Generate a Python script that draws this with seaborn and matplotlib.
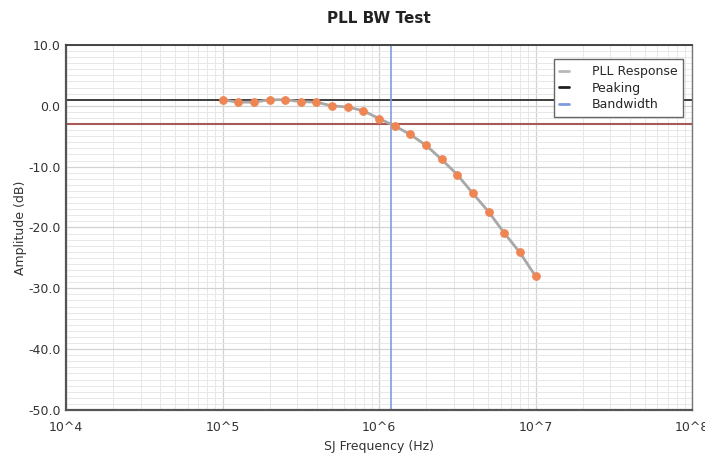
import numpy as np
import pandas as pd
import matplotlib
matplotlib.use('Agg')
import matplotlib.pyplot as plt
from matplotlib.lines import Line2D
from matplotlib.ticker import LogLocator, MultipleLocator, NullFormatter
import seaborn as sns

sns.set_style('white')
plt.rcParams['font.family'] = ['DejaVu Sans']

freq_hz = [1.00e5, 1.26e5, 1.58e5, 2.00e5, 2.51e5, 3.16e5, 3.98e5, 5.01e5, 6.31e5, 7.94e5,
           1.00e6, 1.26e6, 1.58e6, 2.00e6, 2.51e6, 3.16e6, 3.98e6, 5.01e6, 6.31e6, 7.94e6, 1.00e7]
amp_db = [1.0, 0.6, 0.6, 1.0, 1.0, 0.7, 0.6, 0.0, -0.2, -0.8,
          -2.1, -3.3, -4.7, -6.5, -8.8, -11.3, -14.4, -17.4, -20.9, -24.1, -28.0]
peaking_db = 1.0
bw_level_db = -3.0
bw_freq_hz = 1.2e6
x_ticks = [1e4, 1e5, 1e6, 1e7, 1e8]
x_ticklabels = ['10^4', '10^5', '10^6', '10^7', '10^8']
y_ticks = [10, 0, -10, -20, -30, -40, -50]

df = pd.DataFrame({'SJ Frequency (Hz)': freq_hz, 'Amplitude (dB)': amp_db})

fig = plt.figure(figsize=(7.05, 4.61), dpi=100)
ax = fig.add_axes([66 / 705, 1 - 410 / 461, (692 - 66) / 705, (410 - 45) / 461])

ax.set_xscale('log')
ax.set_xlim(1e4, 1e8)
ax.set_ylim(-50, 10)

# grid
ax.xaxis.set_minor_locator(LogLocator(base=10, subs=np.arange(2, 10)))
ax.xaxis.set_minor_formatter(NullFormatter())
ax.yaxis.set_minor_locator(MultipleLocator(1))
ax.grid(which='major', color='#d2d2d2', linewidth=0.9)
ax.grid(which='minor', color='#e8e8e8', linewidth=0.7)
ax.set_axisbelow(True)

ax.axhline(peaking_db, color='#202020', lw=1.2, zorder=2)
ax.axhline(bw_level_db, color='#a85a5a', lw=1.5, zorder=2)
ax.axvline(bw_freq_hz, color='#7f9be0', lw=1.2, zorder=2)

sns.lineplot(data=df, x='SJ Frequency (Hz)', y='Amplitude (dB)', ax=ax, color='#a8a8a8',
             lw=2, marker='o', markersize=5.5, markerfacecolor='#ef8552',
             markeredgecolor='#ef8552', zorder=3)

ax.set_xticks(x_ticks)
ax.set_xticklabels(x_ticklabels)
ax.set_yticks(y_ticks)
ax.set_yticklabels(['%.1f' % v for v in y_ticks])
ax.tick_params(axis='both', which='major', labelsize=9, colors='#333333', length=4, width=1)
ax.tick_params(axis='x', which='major', direction='in', pad=8)
ax.tick_params(axis='y', which='major', direction='out', pad=0)
ax.tick_params(which='minor', length=0)

for side in ['left', 'bottom']:
    ax.spines[side].set_color('#555555')
    ax.spines[side].set_linewidth(1.6)
ax.spines['top'].set_color('#444444')
ax.spines['top'].set_linewidth(1.4)
ax.spines['right'].set_color('#777777')
ax.spines['right'].set_linewidth(1.0)

ax.set_xlabel('SJ Frequency (Hz)', fontsize=9, color='#333333', labelpad=4)
ax.set_ylabel('Amplitude (dB)', fontsize=9, color='#333333', labelpad=1)
ax.set_title('PLL BW Test', fontsize=11, fontweight='bold', color='#222222', pad=16)

handles = [Line2D([], [], color='#b8b8b8', lw=2),
           Line2D([], [], color='#202020', lw=2),
           Line2D([], [], color='#7f9be0', lw=2)]
leg = ax.legend(handles, ['PLL Response', 'Peaking', 'Bandwidth'], loc='upper right',
                fontsize=9, handlelength=0.8, handletextpad=1.8, borderpad=0.45,
                labelspacing=0.3, fancybox=False, framealpha=1,
                bbox_to_anchor=(0.996, 0.978))
leg.get_frame().set_edgecolor('#666666')
leg.get_frame().set_linewidth(1.0)

fig.savefig('out.png', dpi=100)
